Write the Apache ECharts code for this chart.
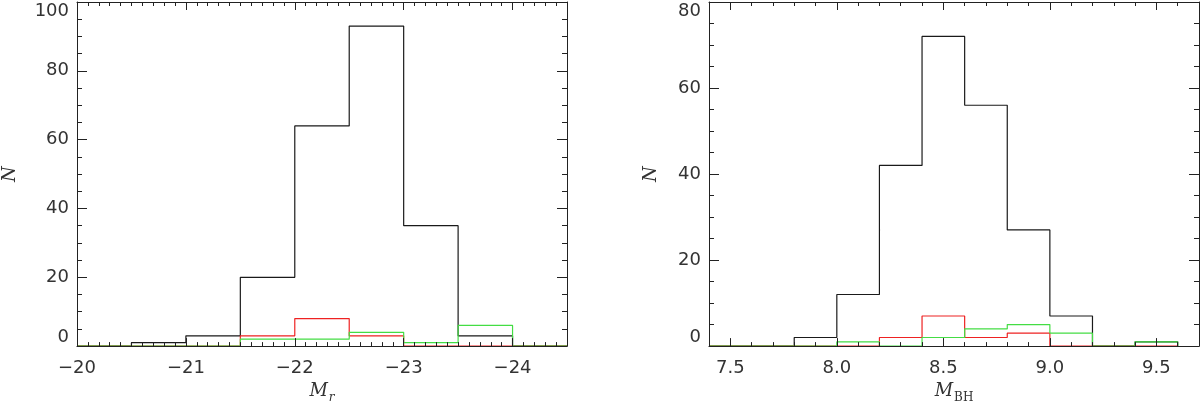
<!DOCTYPE html>
<html>
<head>
<meta charset="utf-8">
<script src="https://cdn.jsdelivr.net/npm/echarts@6/dist/echarts.min.js"></script>
<style>
html,body{margin:0;padding:0;background:#fff;}
#c{width:1200px;height:409px;}
</style>
</head>
<body>
<div id="c"></div>
<script>
// ---- data ----
// Left panel: absolute magnitude M_r, bin edges (bin width 0.5)
var mrEdges = [-20, -20.5, -21, -21.5, -22, -22.5, -23, -23.5, -24, -24.5];
var mrAll   = [0, 1, 3, 20, 64, 93, 35, 3, 0];
var mrRed   = [0, 0, 0, 3, 8, 3, 0, 0, 0];
var mrGreen = [0, 0, 0, 2, 2, 4, 1, 6, 0];
var mrTicks = [-20, -21, -22, -23, -24];

// Right panel: black hole mass M_BH, bin edges (bin width 0.2)
var bhEdges = [7.4, 7.6, 7.8, 8.0, 8.2, 8.4, 8.6, 8.8, 9.0, 9.2, 9.4, 9.6];
var bhAll   = [0, 0, 2, 12, 42, 72, 56, 27, 7, 0, 1];
var bhRed   = [0, 0, 0, 0, 2, 7, 2, 3, 0, 0, 0];
var bhGreen = [0, 0, 0, 1, 0, 2, 4, 5, 3, 0, 1];
var bhTicks = [7.5, 8.0, 8.5, 9.0, 9.5];

// ---- helpers ----
function stepData(edges, counts) {
  var d = [];
  for (var i = 0; i < counts.length; i++) d.push([edges[i], counts[i]]);
  d.push([edges[counts.length], 0]);
  return d;
}
function minorList(a, b, step, majors) {
  var out = [];
  var n = Math.round((b - a) / step);
  for (var i = 0; i <= n; i++) {
    var v = Math.round((a + i * step) * 1000) / 1000;
    var isMajor = majors.some(function (m) { return Math.abs(m - v) < 1e-6; });
    if (!isMajor) out.push(v);
  }
  return out;
}
var AX = '#222';
var labelFont = { fontFamily: 'DejaVu Sans', fontSize: 18, color: '#333' };

function xAxes(gi, min, max, inverse, majors, minors, fmt, name) {
  var base = { type: 'value', gridIndex: gi, min: min, max: max, inverse: inverse,
    splitLine: { show: false }, z: 10 };
  return [
    Object.assign({}, base, {
      position: 'bottom',
      axisLine: { show: true, onZero: false, lineStyle: { color: AX, width: 1.2 } },
      axisTick: { show: true, inside: true, length: 8, customValues: majors, lineStyle: { color: AX } },
      axisLabel: Object.assign({ show: true, margin: 13, customValues: majors, formatter: fmt }, labelFont),
      name: name.text, nameLocation: 'middle', nameGap: 35,
      nameTextStyle: name.style
    }),
    Object.assign({}, base, {
      position: 'bottom',
      axisLine: { show: false, onZero: false },
      axisTick: { show: true, inside: true, length: 4, customValues: minors, lineStyle: { color: AX } },
      axisLabel: { show: false }
    }),
    Object.assign({}, base, {
      position: 'top',
      axisLine: { show: true, onZero: false, lineStyle: { color: AX, width: 1 } },
      axisTick: { show: true, inside: true, length: 8, customValues: majors, lineStyle: { color: AX } },
      axisLabel: { show: false }
    }),
    Object.assign({}, base, {
      position: 'top',
      axisLine: { show: false, onZero: false },
      axisTick: { show: true, inside: true, length: 4, customValues: minors, lineStyle: { color: AX } },
      axisLabel: { show: false }
    })
  ];
}
function yAxes(gi, max, nameGap) {
  var base = { type: 'value', gridIndex: gi, min: 0, max: max, interval: 20, z: 10,
    splitLine: { show: false },
    axisLine: { show: true, onZero: false, lineStyle: { color: AX, width: 1 } },
    axisTick: { show: true, inside: true, length: 10, lineStyle: { color: AX } },
    minorTick: { show: true, splitNumber: 4, length: 5, lineStyle: { color: AX } } };
  return [
    Object.assign({}, base, {
      position: 'left',
      axisLabel: Object.assign({ show: true, margin: 8,
        verticalAlignMinLabel: 'bottom', verticalAlignMaxLabel: 'top' }, labelFont),
      name: 'N', nameLocation: 'middle', nameGap: nameGap,
      nameTextStyle: { fontFamily: 'DejaVu Serif', fontStyle: 'italic', fontSize: 18, color: '#333' }
    }),
    Object.assign({}, base, { position: 'right', axisLabel: { show: false } })
  ];
}
function minusFmt(v) { return v < 0 ? '\u2212' + Math.abs(v) : String(v); }
function oneDec(v) { return v.toFixed(1); }

var subRich = {
  m: { fontFamily: 'DejaVu Serif', fontStyle: 'italic', fontSize: 18, lineHeight: 18, color: '#333', verticalAlign: 'top' },
  si: { fontFamily: 'DejaVu Serif', fontStyle: 'italic', fontSize: 12, lineHeight: 12, color: '#333', verticalAlign: 'top', padding: [10, 0, 0, 1] },
  s: { fontFamily: 'DejaVu Serif', fontSize: 12, lineHeight: 12, color: '#333', verticalAlign: 'top', padding: [10, 0, 0, 1] }
};

var xs = [].concat(
  xAxes(0, -24.5, -20, true, mrTicks, minorList(-24.5, -20, 0.1, mrTicks), minusFmt,
    { text: '{m|M}{si|r}', style: { rich: subRich } }),
  xAxes(1, 7.4, 9.7, false, bhTicks, minorList(7.4, 9.7, 0.1, bhTicks), oneDec,
    { text: '{m|M}{s|BH}', style: { rich: subRich } })
);
var ys = [].concat(yAxes(0, 100, 58), yAxes(1, 80, 49));

function hist(data, color, xi, yi, z) {
  return { type: 'line', step: 'end', symbol: 'none', xAxisIndex: xi, yAxisIndex: yi,
    data: data, z: z, lineStyle: { color: color, width: 1.2 }, silent: true };
}
var BLACK = '#1a1a1a', RED = '#ee2222', GREEN = '#44dd44';

var option = {
  animation: false,
  backgroundColor: '#fff',
  grid: [
    { left: 77, top: 2, width: 490, height: 347 },
    { left: 709, top: 2, width: 490, height: 347 }
  ],
  xAxis: xs,
  yAxis: ys,
  series: [
    hist(stepData(mrEdges, mrAll), BLACK, 0, 0, 2),
    hist(stepData(mrEdges, mrRed), RED, 0, 0, 3),
    hist(stepData(mrEdges, mrGreen), GREEN, 0, 0, 4),
    hist(stepData(bhEdges, bhAll), BLACK, 4, 2, 2),
    hist(stepData(bhEdges, bhRed), RED, 4, 2, 3),
    hist(stepData(bhEdges, bhGreen), GREEN, 4, 2, 4)
  ]
};
var chart = echarts.init(document.getElementById('c'), null, { renderer: 'canvas' });
chart.setOption(option);
</script>
</body>
</html>
